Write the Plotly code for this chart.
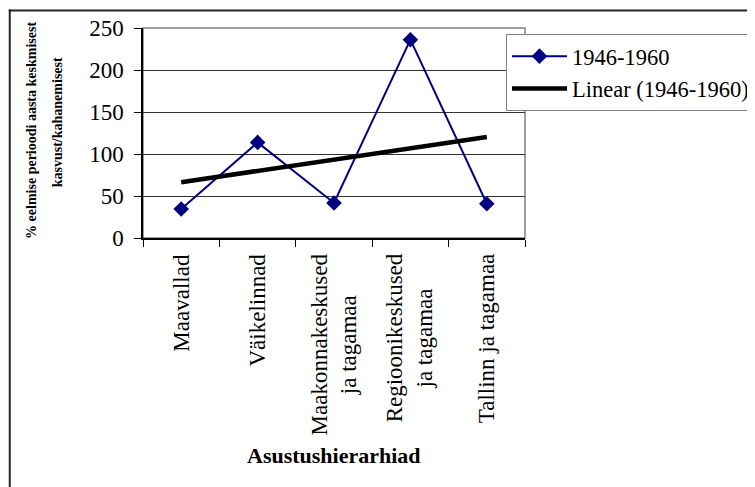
import numpy as np
import plotly.graph_objects as go

categories = ["Maavallad", "Väikelinnad", "Maakonnakeskused<br>ja tagamaa",
              "Regioonikeskused<br>ja tagamaa", "Tallinn ja tagamaa"]
values = [34.5, 113.8, 41.7, 236.1, 40.8]
series_name = "1946-1960"
y_ticks = [0, 50, 100, 150, 200, 250]

FONT = "Liberation Serif, Times New Roman, serif"


def main():
    xs = np.arange(1, len(categories) + 1)
    # linear trend, same as Excel's trendline
    slope, intercept = np.polyfit(xs, values, 1)
    trend = slope * xs + intercept

    fig = go.Figure()
    fig.add_trace(go.Scatter(x=xs, y=values, name=series_name, mode="lines+markers",
                             legendgroup="a",
                             line=dict(color="#000080", width=2),
                             marker=dict(symbol="diamond", size=12, color="#000080")))
    fig.add_trace(go.Scatter(x=xs, y=trend, name="Linear (" + series_name + ")", mode="lines",
                             legendgroup="b",
                             line=dict(color="black", width=4.5)))

    # category labels, rotated, lines centred like Excel does it
    for x, label in zip(xs, categories):
        fig.add_annotation(x=x, y=-0.064, xref="x", yref="paper", text=label, textangle=-90,
                           showarrow=False, xanchor="center", yanchor="top", align="center",
                           font=dict(family=FONT, size=23, color="black"))

    # axis titles
    fig.add_annotation(x=0.5, y=-1.105, xref="paper", yref="paper", text="<b>Asustushierarhiad</b>",
                       showarrow=False, font=dict(family=FONT, size=22, color="black"))
    fig.add_annotation(x=-0.317, y=0.512, xref="paper", yref="paper", textangle=-90,
                       text="<b>% eelmise perioodi aasta keskmisest</b>", showarrow=False,
                       font=dict(family=FONT, size=14, color="black"))
    fig.add_annotation(x=-0.248, y=0.55, xref="paper", yref="paper", textangle=-90,
                       text="<b>kasvust/kahanemisest</b>", showarrow=False,
                       font=dict(family=FONT, size=14, color="black"))

    # plot area frame (grey)
    fig.add_shape(type="rect", xref="paper", yref="paper", x0=0, y0=0, x1=1, y1=1,
                  line=dict(color="#808080", width=1.5), layer="below")
    # outer chart frame: thin filled strips (top and left)
    fig.add_shape(type="rect", xref="paper", yref="paper", x0=-0.3514, y0=1.078, x1=1.59, y1=1.088,
                  fillcolor="#222222", line=dict(width=0), layer="above")
    fig.add_shape(type="rect", xref="paper", yref="paper", x0=-0.3514, y0=-1.3, x1=-0.3462, y1=1.088,
                  fillcolor="#222222", line=dict(width=0), layer="above")

    # page body has an 8px margin, so the figure is a bit smaller and shifted
    fig.update_layout(width=747, height=479,
                      margin=dict(l=135, r=230, t=20, b=249, autoexpand=False),
                      paper_bgcolor="white", plot_bgcolor="white",
                      font=dict(family=FONT, size=23, color="black"),
                      legend=dict(x=0.9503, y=0.9714, xanchor="left", yanchor="top",
                                  bgcolor="white", bordercolor="#808080", borderwidth=1,
                                  font=dict(family=FONT, size=22.5, color="black"),
                                  traceorder="grouped", tracegroupgap=0, itemwidth=55))
    fig.update_xaxes(range=[0.5, len(categories) + 0.5], tickvals=np.arange(0.5, len(categories) + 1),
                     showticklabels=False, ticks="outside", ticklen=7, tickcolor="black",
                     showline=True, linecolor="black", linewidth=1.5, showgrid=False, zeroline=False)
    fig.update_yaxes(range=[0, 250], tickvals=y_ticks, ticks="outside", ticklen=7, tickcolor="black",
                     showline=True, linecolor="black", linewidth=1.5, showgrid=True,
                     gridcolor="#333333", gridwidth=1, zeroline=False, ticklabelstandoff=6,
                     tickfont=dict(family=FONT, size=23, color="black"))
    fig.write_html("out.html", config={"displayModeBar": False})


if __name__ == "__main__":
    main()
